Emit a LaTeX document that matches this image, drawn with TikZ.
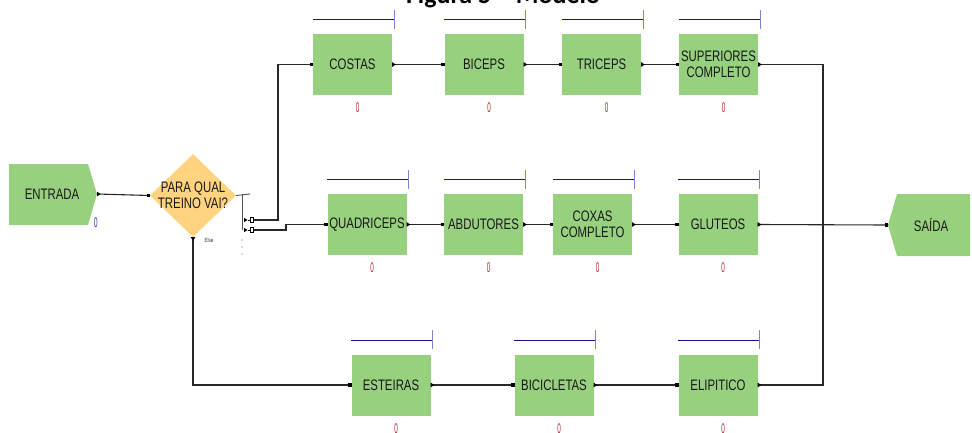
\documentclass[tikz,border=0pt]{standalone}
\usepackage{fontspec}
\setmainfont{Liberation Sans}[FakeStretch=0.75]
\newfontfamily\titlefont{Carlito}
\newfontfamily\zerofont{Liberation Sans}[FakeStretch=0.45]
\usetikzlibrary{shapes.geometric}
\definecolor{boxgreen}{RGB}{151,208,127}
\definecolor{diagold}{RGB}{255,211,128}
\definecolor{barblue}{RGB}{20,20,150}
\definecolor{tickblue}{RGB}{130,130,210}
\definecolor{zerored}{RGB}{170,40,40}
\definecolor{zeroblue}{RGB}{40,40,170}
\definecolor{linegray}{RGB}{40,40,40}
\newcommand\insq[1]{\fill[black] ([xshift=-3.2pt,yshift=-1.8pt]#1) rectangle ([xshift=0.4pt,yshift=1.8pt]#1);}
\newcommand\outtri[1]{\fill[black] ([yshift=2.3pt]#1) -- ([xshift=3.6pt]#1) -- ([yshift=-2.3pt]#1) -- cycle;}
\begin{document}
\begin{tikzpicture}[x=1pt,y=-1pt,
  box/.style={rectangle, fill=boxgreen, minimum width=79pt, minimum height=61pt,
    inner sep=0pt, align=center, text=black!90,
    font=\fontsize{15.2}{16}\selectfont},
  label0/.style={inner sep=0pt, text=zerored, font=\zerofont\fontsize{14}{14}\selectfont},
  bar/.style={draw=barblue, line width=0.9pt},
  tickm/.style={draw=tickblue, line width=1pt},
  conn/.style={draw=linegray, line width=1.1pt},
  thin/.style={draw=linegray!80, line width=0.9pt}]
\useasboundingbox (0,0) rectangle (972,432);

% title (cut off at the top)
\node[anchor=base, inner sep=0pt, font=\titlefont\bfseries\fontsize{26}{26}\selectfont] (title) at (503,3.5) {Figura 5 – Modelo};

% entrada
\fill[boxgreen] (9,164) -- (88,164) -- (97,194) -- (88,225) -- (9,225) -- cycle;
\node[inner sep=0pt, text=black!90, font=\fontsize{15.2}{16}\selectfont] (entrada) at (52,194) {ENTRADA};
\coordinate (entout) at (97,194);
\node[inner sep=0pt, text=zeroblue, font=\zerofont\fontsize{14}{14}\selectfont] (ent0) at (96,223) {0};

% decision
\node[diamond, fill=diagold, minimum width=86pt, minimum height=83pt, inner sep=0pt] (dia) at (193,195.5) {};
\node[inner sep=0pt, align=center, text=black!90, font=\fontsize{15.2}{16}\selectfont] (diatext) at (193,195) {PARA QUAL\\TREINO VAI?};
\node[inner sep=0pt, font=\fontsize{6}{6}\selectfont, text=black!80] (else) at (209,240) {Else};

% saida
\fill[boxgreen] (888,225) -- (897,194) -- (970,194) -- (970,256) -- (897,256) -- cycle;
\node[inner sep=0pt, text=black!90, font=\fontsize{15.2}{16}\selectfont] (saidatext) at (931,225) {SAÍDA};
\coordinate (saida) at (888,225);

% stages
\foreach \n/\x/\y/\t in {costas/352.5/64.5/COSTAS, biceps/484/64.5/BICEPS,
    triceps/601.5/64.5/TRICEPS, sup/718.5/64.5/{SUPERIORES\\COMPLETO},
    quad/367/224.5/QUADRICEPS, abd/483.5/224.5/ABDUTORES,
    coxas/592.5/224.5/{COXAS\\COMPLETO}, glut/718/224.5/GLUTEOS,
    est/391/385/ESTEIRAS, bic/554/385/BICICLETAS, eli/718/385/ELIPITICO}{
  \node[box] (\n) at (\x,\y) {\t};
  \draw[bar] ([yshift=14pt]\n.north west) -- ([xshift=2pt,yshift=14pt]\n.north east);
  \draw[tickm] ([xshift=2pt,yshift=5pt]\n.north east) -- ([xshift=2pt,yshift=24pt]\n.north east);
  \node[label0] (\n0) at ([xshift=5pt,yshift=-12.5pt]\n.south) {0};
}

% connectors
\draw[conn] (entout) -- (dia.west);
\insq{dia.west}\outtri{entout}

\draw[thin] (dia.east) -- (250,194);
\draw[thin] (242,194) -- (242,230);
\foreach \yy in {240,247,254} \fill[linegray!80] (242,\yy) circle (0.6pt);

\coordinate (b1) at (254,220);
\coordinate (b2) at (254,230);
\foreach \b in {b1,b2}{
  \fill[black] ([xshift=-10pt,yshift=2.2pt]\b) -- ([xshift=-6.5pt]\b) -- ([xshift=-10pt,yshift=-2.2pt]\b) -- cycle;
  \draw[black, line width=0.7pt] ([xshift=-6.5pt]\b) -- ([xshift=-4pt]\b);
  \draw[black, line width=0.7pt] ([xshift=-4pt,yshift=-2.2pt]\b) rectangle ([xshift=-1pt,yshift=2.2pt]\b);
}
\draw[conn] (b1) -- (278,220) |- (costas.west);
\draw[conn] (b2) -- (286,230) -- (286,224.5) -- (quad.west);
\draw[conn] (dia.south) |- (est.west);
\fill[black] ([xshift=-2.3pt]dia.south) -- ([xshift=2.3pt]dia.south) -- ([yshift=-3.6pt]dia.south) -- cycle;

\foreach \a/\b in {costas/biceps, biceps/triceps, triceps/sup,
    quad/abd, abd/coxas, coxas/glut, est/bic, bic/eli}{
  \draw[conn] (\a.east) -- (\b.west);
}
\coordinate (join) at (823,224.5);
\draw[conn] (sup.east) -| (join);
\draw[conn] (eli.east) -| (join);
\draw[conn] (glut.east) -- (saida);
\foreach \n in {costas,biceps,triceps,sup,quad,abd,coxas,glut,est,bic,eli}{
  \insq{\n.west}\outtri{\n.east}
}
\insq{saida}
\end{tikzpicture}
\end{document}
